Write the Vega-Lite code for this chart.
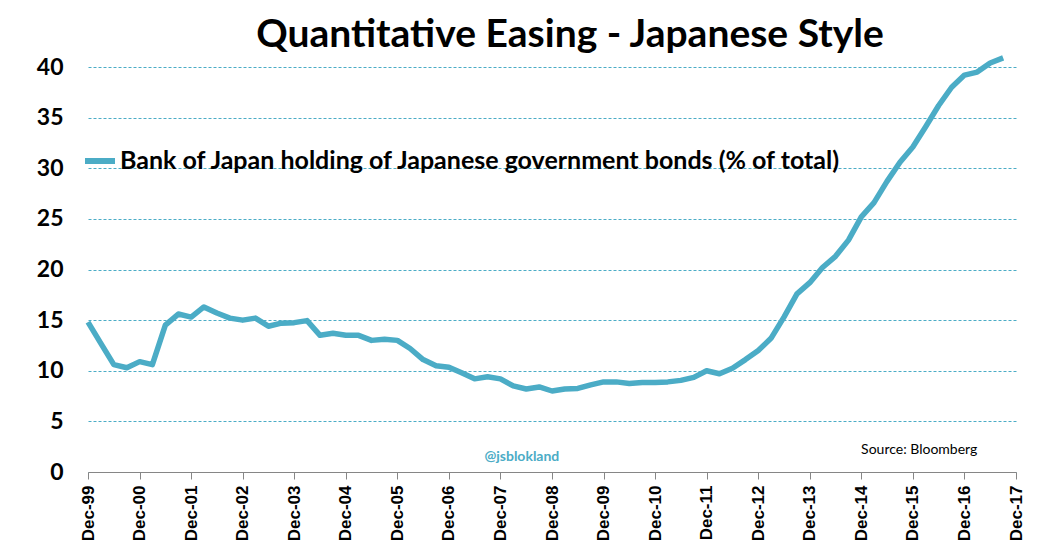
{
  "$schema": "https://vega.github.io/schema/vega-lite/v6.json",
  "width": 928,
  "height": 405,
  "autosize": {"type": "none"},
  "padding": {"left": 88, "top": 67, "right": 26, "bottom": 84},
  "background": "white",
  "title": {
    "text": "Quantitative Easing - Japanese Style",
    "font": "Lato",
    "fontSize": 39,
    "fontWeight": "bold",
    "color": "#000000",
    "anchor": "middle",
    "dx": 18,
    "offset": 0
  },
  "data": {
    "values": [
      {"date": "1999-12-01", "value": 14.8},
      {"date": "2000-03-01", "value": 12.7},
      {"date": "2000-06-01", "value": 10.6},
      {"date": "2000-09-01", "value": 10.3},
      {"date": "2000-12-01", "value": 10.9},
      {"date": "2001-03-01", "value": 10.6},
      {"date": "2001-06-01", "value": 14.5},
      {"date": "2001-09-01", "value": 15.6},
      {"date": "2001-12-01", "value": 15.3},
      {"date": "2002-03-01", "value": 16.3},
      {"date": "2002-06-01", "value": 15.7},
      {"date": "2002-09-01", "value": 15.2},
      {"date": "2002-12-01", "value": 15.0},
      {"date": "2003-03-01", "value": 15.2},
      {"date": "2003-06-01", "value": 14.4},
      {"date": "2003-09-01", "value": 14.7},
      {"date": "2003-12-01", "value": 14.75},
      {"date": "2004-03-01", "value": 14.95},
      {"date": "2004-06-01", "value": 13.5},
      {"date": "2004-09-01", "value": 13.7},
      {"date": "2004-12-01", "value": 13.5},
      {"date": "2005-03-01", "value": 13.5},
      {"date": "2005-06-01", "value": 13.0},
      {"date": "2005-09-01", "value": 13.1},
      {"date": "2005-12-01", "value": 13.0},
      {"date": "2006-03-01", "value": 12.2},
      {"date": "2006-06-01", "value": 11.1},
      {"date": "2006-09-01", "value": 10.5},
      {"date": "2006-12-01", "value": 10.35},
      {"date": "2007-03-01", "value": 9.8},
      {"date": "2007-06-01", "value": 9.2},
      {"date": "2007-09-01", "value": 9.4},
      {"date": "2007-12-01", "value": 9.2},
      {"date": "2008-03-01", "value": 8.5},
      {"date": "2008-06-01", "value": 8.2},
      {"date": "2008-09-01", "value": 8.4},
      {"date": "2008-12-01", "value": 8.0},
      {"date": "2009-03-01", "value": 8.2},
      {"date": "2009-06-01", "value": 8.25},
      {"date": "2009-09-01", "value": 8.6},
      {"date": "2009-12-01", "value": 8.9},
      {"date": "2010-03-01", "value": 8.9},
      {"date": "2010-06-01", "value": 8.75},
      {"date": "2010-09-01", "value": 8.85},
      {"date": "2010-12-01", "value": 8.85},
      {"date": "2011-03-01", "value": 8.9},
      {"date": "2011-06-01", "value": 9.05},
      {"date": "2011-09-01", "value": 9.35},
      {"date": "2011-12-01", "value": 10.0},
      {"date": "2012-03-01", "value": 9.7},
      {"date": "2012-06-01", "value": 10.25},
      {"date": "2012-09-01", "value": 11.1},
      {"date": "2012-12-01", "value": 12.0},
      {"date": "2013-03-01", "value": 13.2},
      {"date": "2013-06-01", "value": 15.3},
      {"date": "2013-09-01", "value": 17.6},
      {"date": "2013-12-01", "value": 18.7},
      {"date": "2014-03-01", "value": 20.2},
      {"date": "2014-06-01", "value": 21.3},
      {"date": "2014-09-01", "value": 22.9},
      {"date": "2014-12-01", "value": 25.2},
      {"date": "2015-03-01", "value": 26.6},
      {"date": "2015-06-01", "value": 28.7},
      {"date": "2015-09-01", "value": 30.6},
      {"date": "2015-12-01", "value": 32.1},
      {"date": "2016-03-01", "value": 34.1},
      {"date": "2016-06-01", "value": 36.2},
      {"date": "2016-09-01", "value": 38.0},
      {"date": "2016-12-01", "value": 39.2},
      {"date": "2017-03-01", "value": 39.5},
      {"date": "2017-06-01", "value": 40.4},
      {"date": "2017-09-01", "value": 40.9}
    ]
  },
  "layer": [
    {
      "mark": {"type": "line", "strokeWidth": 5.5, "strokeJoin": "round", "clip": false},
      "encoding": {
        "x": {
          "field": "date",
          "type": "temporal",
          "title": null,
          "scale": {
            "type": "utc",
            "domain": [
              {"year": 1999, "month": 12, "date": 1, "utc": true},
              {"year": 2017, "month": 12, "date": 1, "utc": true}
            ]
          },
          "axis": {
            "values": [
              {"year": 1999, "month": 12, "date": 1, "utc": true},
              {"year": 2000, "month": 12, "date": 1, "utc": true},
              {"year": 2001, "month": 12, "date": 1, "utc": true},
              {"year": 2002, "month": 12, "date": 1, "utc": true},
              {"year": 2003, "month": 12, "date": 1, "utc": true},
              {"year": 2004, "month": 12, "date": 1, "utc": true},
              {"year": 2005, "month": 12, "date": 1, "utc": true},
              {"year": 2006, "month": 12, "date": 1, "utc": true},
              {"year": 2007, "month": 12, "date": 1, "utc": true},
              {"year": 2008, "month": 12, "date": 1, "utc": true},
              {"year": 2009, "month": 12, "date": 1, "utc": true},
              {"year": 2010, "month": 12, "date": 1, "utc": true},
              {"year": 2011, "month": 12, "date": 1, "utc": true},
              {"year": 2012, "month": 12, "date": 1, "utc": true},
              {"year": 2013, "month": 12, "date": 1, "utc": true},
              {"year": 2014, "month": 12, "date": 1, "utc": true},
              {"year": 2015, "month": 12, "date": 1, "utc": true},
              {"year": 2016, "month": 12, "date": 1, "utc": true},
              {"year": 2017, "month": 12, "date": 1, "utc": true}
            ],
            "format": "%b-%y",
            "labelAngle": -90,
            "labelFont": "Liberation Sans",
            "labelFontSize": 17,
            "labelFontWeight": "bold",
            "labelColor": "#000000",
            "labelPadding": 6,
            "labelOverlap": false,
            "labelFlush": false,
            "grid": false,
            "domainColor": "#868686",
            "tickColor": "#868686",
            "tickSize": 7
          }
        },
        "y": {
          "field": "value",
          "type": "quantitative",
          "title": null,
          "scale": {"domain": [0, 40], "nice": false},
          "axis": {
            "values": [0, 5, 10, 15, 20, 25, 30, 35, 40],
            "domain": false,
            "ticks": false,
            "labelFont": "Lato",
            "labelFontSize": 23,
            "labelFontWeight": "bold",
            "labelColor": "#000000",
            "labelPadding": 25,
            "gridColor": "#4BACC6",
            "gridDash": [3, 2],
            "gridWidth": 1
          }
        },
        "color": {
          "datum": "Bank of Japan holding of Japanese government bonds (% of total)",
          "type": "nominal",
          "scale": {"range": ["#4BACC6"]},
          "legend": {
            "title": null,
            "orient": "none",
            "legendX": -6,
            "legendY": 76,
            "symbolType": "stroke",
            "symbolSize": 900,
            "symbolStrokeWidth": 6,
            "labelFont": "Lato",
            "labelFontSize": 25,
            "labelFontWeight": "bold",
            "labelColor": "#000000",
            "labelOffset": 2,
            "labelLimit": 900
          }
        }
      }
    },
    {
      "data": {"values": [{"date": "2008-05-01", "value": 1.5, "label": "@jsblokland"}]},
      "mark": {"type": "text", "font": "Lato", "fontSize": 14, "fontWeight": "bold", "color": "#4BACC6"},
      "encoding": {
        "x": {"field": "date", "type": "temporal"},
        "y": {"field": "value", "type": "quantitative"},
        "text": {"field": "label"}
      }
    },
    {
      "data": {"values": [{"date": "2016-01-15", "value": 2.2, "label": "Source: Bloomberg"}]},
      "mark": {"type": "text", "font": "Lato", "fontSize": 14, "color": "#000000"},
      "encoding": {
        "x": {"field": "date", "type": "temporal"},
        "y": {"field": "value", "type": "quantitative"},
        "text": {"field": "label"}
      }
    }
  ],
  "config": {
    "view": {"stroke": null}
  }
}
